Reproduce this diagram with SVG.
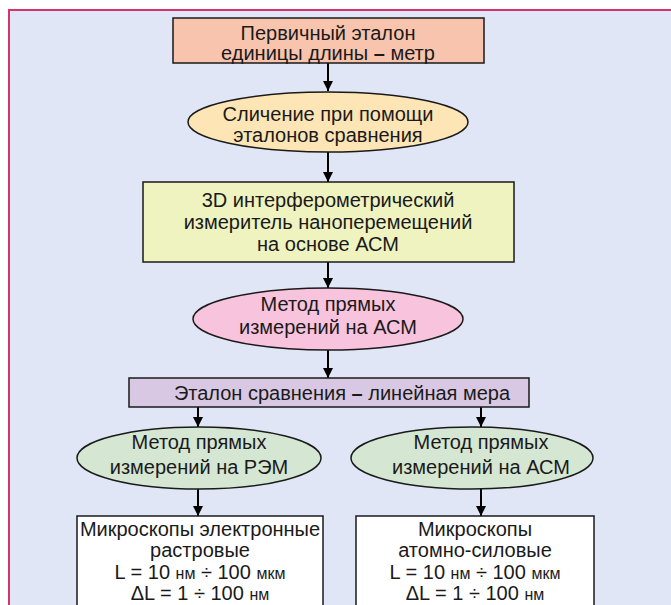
<svg xmlns="http://www.w3.org/2000/svg" width="671" height="605" viewBox="0 0 671 605">
<defs>
<marker id="ah" viewBox="0 0 10 10" refX="10" refY="5" markerWidth="10" markerHeight="10" markerUnits="userSpaceOnUse" orient="auto">
<path d="M0,0 L10,5 L0,10 Z" fill="#000"/>
</marker>
<style>
.t{font-family:"Liberation Sans","DejaVu Sans",sans-serif;font-size:20px;fill:#1a1a1a;text-anchor:middle}
.u{font-size:16px}
.d{font-weight:bold}
.n{stroke:#1a1a1a;stroke-width:1.5}
.c{stroke:#000;stroke-width:2;fill:none;marker-end:url(#ah)}
</style>
</defs>
<rect x="0" y="0" width="671" height="605" fill="#fff"/>
<rect x="9" y="10" width="680" height="620" fill="#E0E6F5" stroke="#D6336B" stroke-width="2"/>
<g id="connectors">
<line class="c" x1="328" y1="63" x2="328" y2="91"/>
<line class="c" x1="328" y1="152" x2="328" y2="182"/>
<line class="c" x1="328" y1="262" x2="328" y2="288"/>
<line class="c" x1="328" y1="350" x2="328" y2="378"/>
<line class="c" x1="198" y1="407" x2="198" y2="427"/>
<line class="c" x1="481" y1="407" x2="481" y2="427"/>
<line class="c" x1="198" y1="489" x2="198" y2="516"/>
<line class="c" x1="481" y1="489" x2="481" y2="516"/>
</g>
<g id="n1">
<rect class="n" x="173" y="18" width="311" height="45" fill="#F8C4AE"/>
<text class="t" x="328" y="40">Первичный эталон</text>
<text class="t" x="328" y="60">единицы длины <tspan class="d">–</tspan> метр</text>
</g>
<g id="n2">
<ellipse class="n" cx="328" cy="122" rx="140" ry="30" fill="#FDE5B5"/>
<text class="t" x="328" y="121">Сличение при помощи</text>
<text class="t" x="328" y="142">эталонов сравнения</text>
</g>
<g id="n3">
<rect class="n" x="143" y="182" width="371" height="80" fill="#EEF3C0"/>
<text class="t" x="328" y="207">3D интерферометрический</text>
<text class="t" x="328" y="229">измеритель наноперемещений</text>
<text class="t" x="328" y="251">на основе АСМ</text>
</g>
<g id="n4">
<ellipse class="n" cx="328" cy="319" rx="135" ry="31" fill="#F8C3DC"/>
<text class="t" x="328" y="311">Метод прямых</text>
<text class="t" x="328" y="334">измерений на АСМ</text>
</g>
<g id="n5">
<rect class="n" x="129" y="378" width="400" height="29" fill="#D9C8E3"/>
<text class="t" x="342" y="400">Эталон сравнения <tspan class="d">–</tspan> линейная мера</text>
</g>
<g id="n6">
<ellipse class="n" cx="199" cy="458" rx="122" ry="31" fill="#D5E6D3"/>
<text class="t" x="199" y="449">Метод прямых</text>
<text class="t" x="199" y="474">измерений на РЭМ</text>
</g>
<g id="n7">
<ellipse class="n" cx="472" cy="458" rx="121" ry="31" fill="#D5E6D3"/>
<text class="t" x="481" y="449">Метод прямых</text>
<text class="t" x="481" y="474">измерений на АСМ</text>
</g>
<g id="n8">
<rect class="n" x="77" y="516" width="246" height="100" fill="#fff"/>
<text class="t" x="200" y="536">Микроскопы электронные</text>
<text class="t" x="200" y="557">растровые</text>
<text class="t" x="200" y="579">L = 10 <tspan class="u">нм</tspan> ÷ 100 <tspan class="u">мкм</tspan></text>
<text class="t" x="200" y="600">ΔL = 1 ÷ 100 <tspan class="u">нм</tspan></text>
</g>
<g id="n9">
<rect class="n" x="356" y="516" width="238" height="100" fill="#fff"/>
<text class="t" x="475" y="536">Микроскопы</text>
<text class="t" x="475" y="557">атомно-силовые</text>
<text class="t" x="475" y="579">L = 10 <tspan class="u">нм</tspan> ÷ 100 <tspan class="u">мкм</tspan></text>
<text class="t" x="475" y="600">ΔL = 1 ÷ 100 <tspan class="u">нм</tspan></text>
</g>
</svg>
